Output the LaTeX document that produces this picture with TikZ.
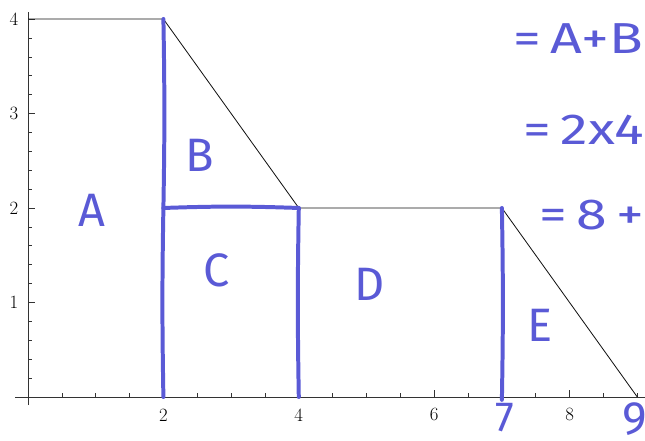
\documentclass[tikz,border=0pt]{standalone}
\usepackage{fontspec}
\usepackage{graphicx}
\usetikzlibrary{calc}
\newfontfamily\handfont{Fira Sans}
\definecolor{hwBlue}{HTML}{5A5AD6}
\definecolor{plotInk}{HTML}{111111}
\newcommand{\widehand}[1]{\scalebox{1.28}[1]{#1}}
\tikzset{
  graphline/.style={line width=0.7pt, plotInk},
  axisline/.style={line width=0.7pt, black!80},
  minortick/.style={line width=0.5pt, black!80},
  majortick/.style={line width=0.6pt, black!80},
  ticklabel/.style={font=\fontsize{16}{16}\selectfont, inner sep=1pt},
  hwline/.style={line width=3.4pt, hwBlue, line cap=round, line join=round},
  hwlabel/.style={font=\handfont\fontsize{40}{40}\selectfont, text=hwBlue, inner sep=0pt},
  hwnote/.style={font=\handfont\fontsize{37}{37}\selectfont, text=hwBlue, inner sep=0pt, anchor=west}
}
\begin{document}
\begin{tikzpicture}[x=2.031cm, y=2.835cm]
  \clip (-0.4136,-0.4656) rectangle (9.114,4.201);
  % axes
  \coordinate (xl) at (-0.19,0);
  \coordinate (xr) at (9.3,0);
  \coordinate (yb) at (0,-0.085);
  \coordinate (yt) at (0,4.07);
  \draw[axisline] (xl) -- (xr);
  \draw[axisline] (yb) -- (yt);
  \foreach \t in {0.5,1,...,9}
    \draw[minortick] (\t,0) -- ++(0,0.042);
  \foreach \t in {0.2,0.4,...,3.9}
    \draw[minortick] (0,\t) -- ++(0.059,0);
  \foreach \t in {2,4,6,8} {
    \draw[majortick] (\t,0) -- ++(0,0.074);
    \node[ticklabel] (xt\t) at (\t,-0.19) {\t};
  }
  \foreach \t in {1,2,3,4} {
    \draw[majortick] (0,\t) -- ++(0.103,0);
    \node[ticklabel] (yt\t) at (-0.207,\t) {\t};
  }
  % graph
  \coordinate (p0) at (0,4);
  \coordinate (p2) at (2,4);
  \coordinate (q4) at (4,2);
  \coordinate (q7) at (7,2);
  \coordinate (p9) at (9,0);
  \coordinate (m2) at (2,2);
  \coordinate (b2) at (2,0);
  \coordinate (b4) at (4,0);
  \coordinate (b7) at (7,-0.03);
  \draw[graphline] (p0) -- (p2) -- (q4) -- (q7) -- (p9);
  % pen strokes
  \draw[hwline] (p2) to[bend left=1] (m2) to[bend right=1] (b2);
  \draw[hwline] (m2) to[bend left=2] (q4);
  \draw[hwline] (q4) to[bend right=1] (b4);
  \draw[hwline] (q7) to[bend left=1] (b7);
  % pen labels
  \node[hwlabel] (areaA) at (0.95,1.97) {A};
  \node[hwlabel] (areaB) at (2.54,2.56) {B};
  \node[hwlabel] (areaC) at (2.79,1.34) {C};
  \node[hwlabel] (areaD) at (5.05,1.19) {D};
  \node[hwlabel] (areaE) at (7.56,0.76) {E};
  \node[hwlabel, font=\handfont\fontsize{36}{36}\selectfont] (seven) at (7.05,-0.215) {7};
  \node[hwlabel] (nine) at (8.96,-0.23) {9};
  \node[hwnote] (sumAB) at (7.17,3.79) {\widehand{=\,A+B}};
  \node[hwnote] (twofour) at (7.32,2.83) {\widehand{=\,2x4}};
  \node[hwnote] (eightplus) at (7.55,1.93) {\widehand{=\,8\,+}};
\end{tikzpicture}
\end{document}
